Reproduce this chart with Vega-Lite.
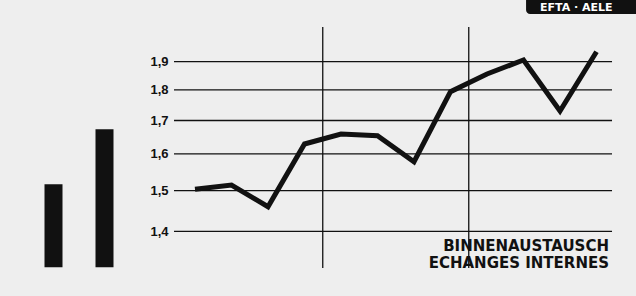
{
  "$schema": "https://vega.github.io/schema/vega-lite/v6.json",
  "background": "#eeeeee",
  "padding": {"left": 28, "top": 0, "right": 0, "bottom": 28},
  "bounds": "flush",
  "spacing": 44,
  "config": {"view": {"stroke": null}},
  "datasets": {
    "jahre": [
      {"jahr": "Jahr 1", "wert": 1.517},
      {"jahr": "Jahr 2", "wert": 1.673}
    ],
    "quartale": [
      {"quartal": 1, "wert": 1.5036},
      {"quartal": 2, "wert": 1.5149},
      {"quartal": 3, "wert": 1.4593},
      {"quartal": 4, "wert": 1.6288},
      {"quartal": 5, "wert": 1.6585},
      {"quartal": 6, "wert": 1.6534},
      {"quartal": 7, "wert": 1.5781},
      {"quartal": 8, "wert": 1.7938},
      {"quartal": 9, "wert": 1.8554},
      {"quartal": 10, "wert": 1.9063},
      {"quartal": 11, "wert": 1.7301},
      {"quartal": 12, "wert": 1.9375}
    ],
    "gitter": [
      {"wert": 1.4}, {"wert": 1.5}, {"wert": 1.6}, {"wert": 1.7}, {"wert": 1.8}, {"wert": 1.9}
    ],
    "trenner": [
      {"grenze": 4.5}, {"grenze": 8.5}
    ]
  },
  "hconcat": [
    {
      "width": 102,
      "height": 268,
      "data": {"name": "jahre"},
      "mark": {"type": "bar", "size": 18, "color": "#111111"},
      "encoding": {
        "x": {"field": "jahr", "type": "nominal", "scale": {"paddingInner": 0, "paddingOuter": 0}, "axis": null},
        "y": {"field": "wert", "type": "quantitative", "scale": {"type": "pow", "exponent": -0.5, "domain": [1.318, 2.1504], "zero": false, "nice": false}, "axis": null},
        "y2": {"datum": 1.3195}
      }
    },
    {
      "width": 462,
      "height": 268,
      "layer": [
        {
          "data": {"name": "gitter"},
          "mark": {"type": "rule", "color": "#111111", "strokeWidth": 1.3},
          "encoding": {
            "x": {"datum": 0.425, "type": "quantitative", "axis": null},
            "x2": {"datum": 12.425},
            "y": {"field": "wert", "type": "quantitative", "title": null}
          }
        },
        {
          "data": {"name": "trenner"},
          "mark": {"type": "rule", "color": "#111111", "strokeWidth": 1.3},
          "encoding": {
            "x": {"field": "grenze", "type": "quantitative", "axis": null},
            "y": {"datum": 2.035, "type": "quantitative", "title": null},
            "y2": {"datum": 1.318}
          }
        },
        {
          "data": {"name": "quartale"},
          "mark": {"type": "line", "color": "#111111", "strokeWidth": 5, "strokeJoin": "miter", "strokeCap": "butt"},
          "encoding": {
            "x": {"field": "quartal", "type": "quantitative", "scale": {"domain": [0.4247, 13.082], "zero": false, "nice": false}, "axis": null},
            "y": {
              "field": "wert", "type": "quantitative",
              "scale": {"type": "pow", "exponent": -0.5, "domain": [1.318, 2.1504], "zero": false, "nice": false},
              "axis": {
                "title": null, "values": [1.4, 1.5, 1.6, 1.7, 1.8, 1.9],
                "labelExpr": "replace(format(datum.value, '.1f'), '.', ',')",
                "domain": false, "ticks": false, "grid": false, "labelPadding": 6,
                "labelFont": "Liberation Sans", "labelFontSize": 13, "labelFontWeight": "bold", "labelColor": "#111111"
              }
            }
          }
        },
        {
          "data": {"values": [{}]},
          "mark": {"type": "text", "align": "right", "baseline": "alphabetic", "font": "DejaVu Sans", "fontWeight": "bold", "fontSize": 15, "lineHeight": 17, "color": "#111111"},
          "encoding": {
            "x": {"datum": 12.342, "type": "quantitative", "axis": null},
            "y": {"datum": 1.3551, "type": "quantitative", "title": null},
            "text": {"value": ["BINNENAUSTAUSCH", "ECHANGES INTERNES"]}
          }
        },
        {
          "data": {"values": [{}]},
          "mark": {"type": "rect", "color": "#111111", "cornerRadiusBottomLeft": 4, "clip": true},
          "encoding": {
            "x": {"datum": 10.07, "type": "quantitative", "axis": null},
            "x2": {"datum": 13.082},
            "y": {"datum": 2.1504, "type": "quantitative", "title": null},
            "y2": {"datum": 2.0894}
          }
        },
        {
          "data": {"values": [{}]},
          "mark": {"type": "text", "align": "left", "baseline": "alphabetic", "font": "DejaVu Sans", "fontWeight": "bold", "fontSize": 11, "color": "#ffffff", "clip": true},
          "encoding": {
            "x": {"datum": 10.452, "type": "quantitative", "axis": null},
            "y": {"datum": 2.1022, "type": "quantitative", "title": null},
            "text": {"value": "EFTA · AELE"}
          }
        }
      ]
    }
  ]
}
